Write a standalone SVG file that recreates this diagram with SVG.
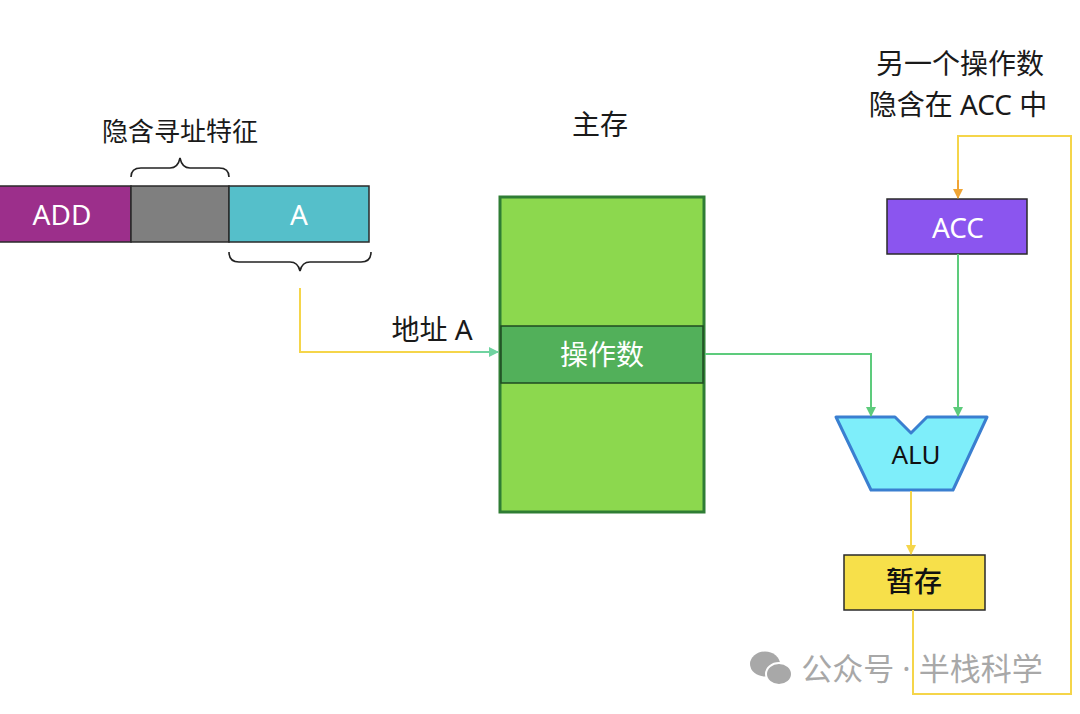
<svg xmlns="http://www.w3.org/2000/svg" width="1080" height="714" viewBox="0 0 1080 714">
<defs>
<style>
text{font-family:"Noto Sans","Noto Sans CJK SC",sans-serif;text-anchor:middle;dominant-baseline:central}
.lbl{font-size:26px;fill:#1a1a1a}
.big{font-size:28px;fill:#1a1a1a}
.wh{font-size:28px;fill:#fff}
.box{stroke:#2a2a2a;stroke-width:1.5}
.y{fill:none;stroke:#f5d54a;stroke-width:2}
.g{fill:none;stroke:#5dcb7c;stroke-width:2}
.br{fill:none;stroke:#222;stroke-width:1.6}
</style>
<marker id="ag" markerWidth="10" markerHeight="10" refX="9" refY="5" orient="auto" markerUnits="userSpaceOnUse"><path d="M0,0 L10,5 L0,10 z" fill="#5dcb7c"/></marker>
<marker id="at" markerWidth="10" markerHeight="10" refX="9" refY="5" orient="auto" markerUnits="userSpaceOnUse"><path d="M0,0 L10,5 L0,10 z" fill="#6fd3a0"/></marker>
<marker id="ay" markerWidth="10" markerHeight="10" refX="9" refY="5" orient="auto" markerUnits="userSpaceOnUse"><path d="M0,0 L10,5 L0,10 z" fill="#f5d54a"/></marker>
<marker id="ao" markerWidth="10" markerHeight="10" refX="9" refY="5" orient="auto" markerUnits="userSpaceOnUse"><path d="M0,0 L10,5 L0,10 z" fill="#f0a535"/></marker>
</defs>
<rect width="1080" height="714" fill="#fff"/>

<g id="instruction">
<rect class="box" x="-2" y="186" width="133" height="56" fill="#9c2f8b"/>
<rect class="box" x="131" y="186" width="98" height="56" fill="#7f7f7f"/>
<rect class="box" x="229" y="186" width="140" height="56" fill="#55bfca"/>
<text class="wh" x="62" y="214">ADD</text>
<text class="wh" x="299" y="214">A</text>
<path class="br" d="M131,177 Q131,168 141,168 L170,168 Q178,168 180,158 Q182,168 190,168 L219,168 Q229,168 229,177"/>
<text class="lbl" x="180" y="131">隐含寻址特征</text>
<path class="br" d="M229,252 Q229,262 239,262 L290,262 Q298,262 300,271 Q302,262 310,262 L361,262 Q371,262 371,252"/>
</g>

<g id="memory">
<text class="big" x="600" y="124">主存</text>
<rect x="500" y="197" width="204" height="315" fill="#8cd84e" stroke="#2f7d34" stroke-width="3"/>
<rect x="501" y="326" width="202" height="57" fill="#52b05a" stroke="#1f4a22" stroke-width="1.5"/>
<text class="wh" x="602" y="354">操作数</text>
</g>

<g id="acc">
<text class="big" x="960" y="63">另一个操作数</text>
<text class="big" x="958" y="104">隐含在 ACC 中</text>
<rect class="box" x="887" y="199" width="140" height="55" fill="#8b55ef"/>
<text class="wh" x="958" y="227">ACC</text>
</g>

<g id="alu">
<path d="M836,417 L895,417 L911,433 L927,417 L987,417 L953,490 L871,490 z" fill="#7eeefa" stroke="#3a7fd0" stroke-width="3" stroke-linejoin="round"/>
<text x="916" y="454" style="font-size:26px;fill:#111">ALU</text>
</g>

<g id="temp">
<rect class="box" x="844" y="555" width="141" height="55" fill="#f7e04a"/>
<text x="914" y="581" style="font-size:28px;fill:#111;font-weight:500">暂存</text>
</g>

<g id="connectors">
<path class="y" d="M300,288 L300,352 L470,352"/>
<path d="M470,352 L498,352" fill="none" stroke="#6fd3a0" stroke-width="2" marker-end="url(#at)"/>
<text class="big" x="432" y="329">地址 A</text>
<path class="g" d="M705,354 L871,354 L871,416" marker-end="url(#ag)"/>
<path class="g" d="M958,254 L958,416" marker-end="url(#ag)"/>
<path class="y" d="M911,491 L911,554" marker-end="url(#ay)"/>
<path class="y" d="M913,610 L913,694 L1071,694 L1071,136 L958,136 L958,180"/>
<path d="M958,180 L958,198" fill="none" stroke="#f0a535" stroke-width="2" marker-end="url(#ao)"/>
</g>

<g id="watermark" fill="#a8a8a8">
<ellipse cx="765" cy="664" rx="15" ry="12.5"/>
<ellipse cx="779" cy="674" rx="13" ry="11" stroke="#fff" stroke-width="2"/>
<text x="922" y="668" style="font-size:31px;fill:#a8a8a8">公众号 · 半栈科学</text>
</g>
</svg>
